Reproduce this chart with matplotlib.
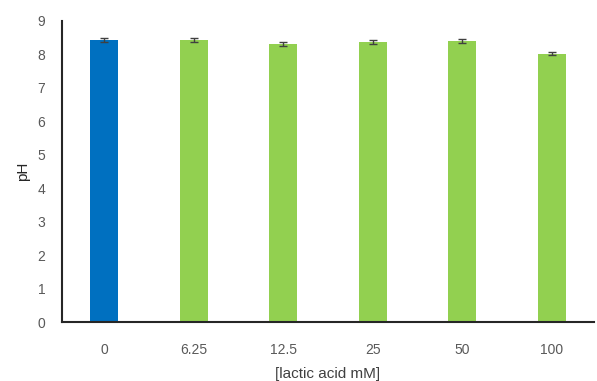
import matplotlib
matplotlib.use('Agg')
import matplotlib.pyplot as plt
import numpy as np

categories = ['0', '6.25', '12.5', '25', '50', '100']
ph_values = [8.43, 8.42, 8.31, 8.37, 8.40, 8.02]
ph_errors = [0.05, 0.06, 0.05, 0.07, 0.07, 0.04]
bar_colors = ['#0070c0', '#92d050', '#92d050', '#92d050', '#92d050', '#92d050']

plt.rcParams['font.family'] = ['Liberation Sans', 'DejaVu Sans']

fig = plt.figure(figsize=(5.97, 3.81), dpi=100)
ax = fig.add_axes([62 / 597, 1 - 322 / 381, (594 - 62) / 597, (322 - 21) / 381])

x = np.arange(len(categories))
ax.bar(x, ph_values, width=0.31, color=bar_colors,
       yerr=ph_errors, capsize=3,
       error_kw=dict(ecolor='#404040', elinewidth=1, capthick=1))

ax.set_xlim(-0.47, len(categories) - 0.53)
ax.set_ylim(0, 9)
ax.set_yticks(range(0, 10))
ax.set_xticks(x)
ax.set_xticklabels(categories)
ax.tick_params(length=0, labelsize=10, colors='#595959')
ax.tick_params(axis='y', pad=12)
ax.tick_params(axis='x', pad=15)

for side in ['top', 'right']:
    ax.spines[side].set_visible(False)
for side in ['left', 'bottom']:
    ax.spines[side].set_linewidth(1.5)
    ax.spines[side].set_color('#262626')

ax.set_ylabel('pH', fontsize=11, color='#262626', labelpad=5)
ax.set_xlabel('[lactic acid mM]', fontsize=11, color='#404040', labelpad=7)

fig.savefig('out.png', dpi=100, facecolor='white')
